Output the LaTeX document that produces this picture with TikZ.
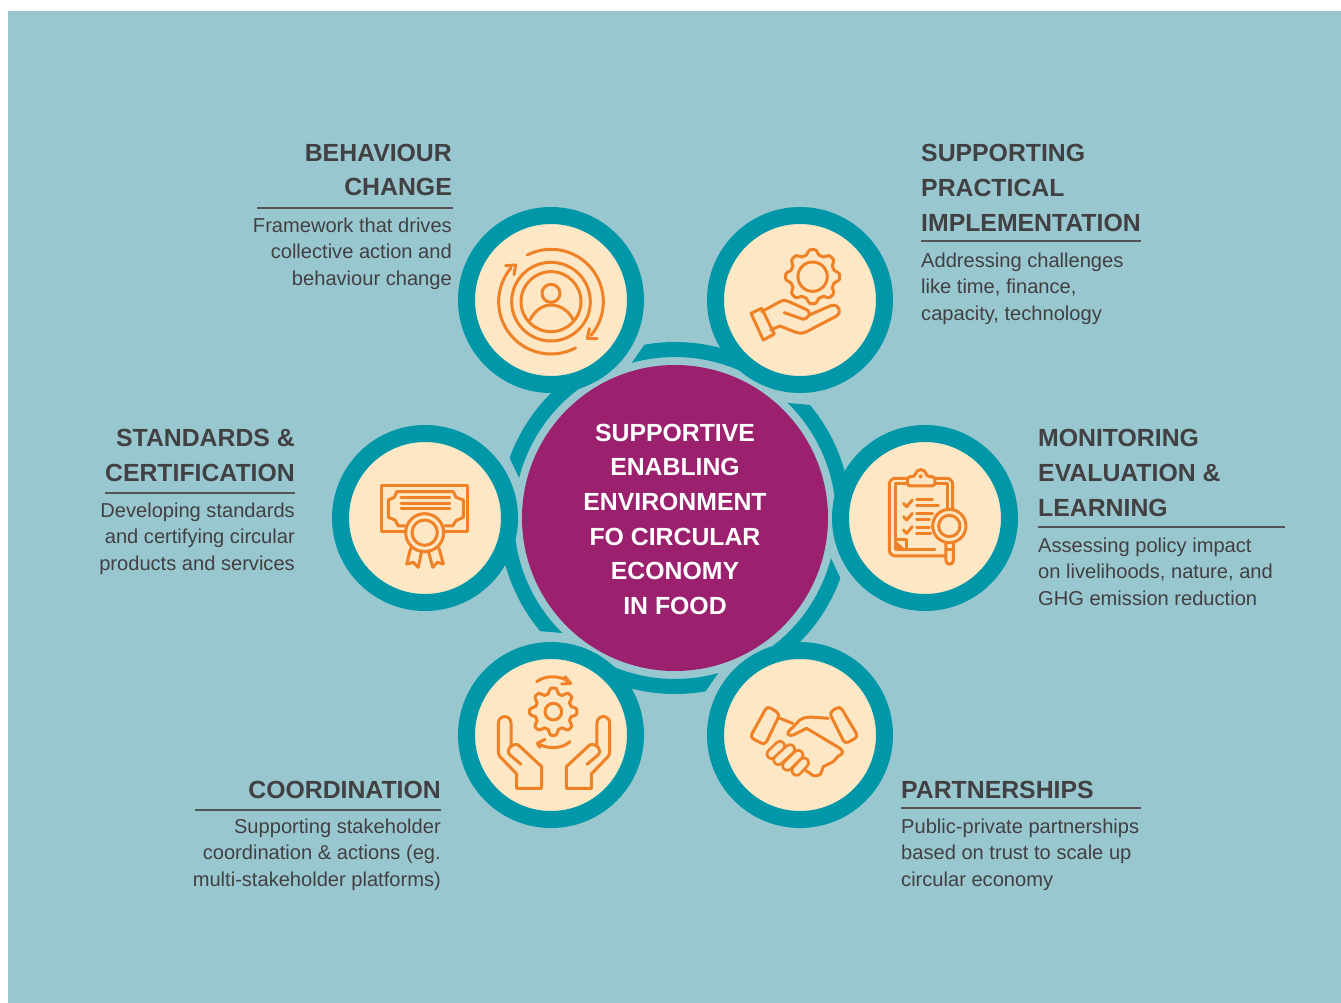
\documentclass[tikz,border=0pt]{standalone}
\usepackage{fontspec}
\setmainfont{Liberation Sans}
\definecolor{paleblue}{HTML}{99C7CF}
\definecolor{ringteal}{HTML}{0098A9}
\definecolor{coreplum}{HTML}{9B206E}
\definecolor{hubcream}{HTML}{FDE7C5}
\definecolor{iconorange}{HTML}{EF8226}
\definecolor{textgrey}{HTML}{414042}
\tikzset{
  hub/.style={circle,draw=ringteal,line width=17pt,fill=hubcream,minimum size=169pt,inner sep=0pt},
  core/.style={circle,fill=coreplum,minimum size=306pt,inner sep=0pt,align=center,text=white,
    font=\fontsize{24.8}{34.6}\selectfont\bfseries},
  headR/.style={anchor=base east,inner sep=0pt,align=right,text=textgrey,font=\fontsize{24.8}{34.6}\selectfont\bfseries},
  headL/.style={anchor=base west,inner sep=0pt,align=left,text=textgrey,font=\fontsize{24.8}{34.6}\selectfont\bfseries},
  bodyR/.style={anchor=base east,inner sep=0pt,align=right,text=textgrey,font=\fontsize{20.1}{26.7}\selectfont},
  bodyL/.style={anchor=base west,inner sep=0pt,align=left,text=textgrey,font=\fontsize{20.1}{26.7}\selectfont},
  headrule/.style={draw=textgrey!90,line width=1.5pt},
  icon/.style={draw=iconorange,line width=3pt,line join=round,line cap=round},
  zoomed/.style 2 args={shift={(#1,#2)},x=.3333pt,y=-.3333pt},
}
% toothed wheel: centre x, centre y, mid radius, tooth height
\newcommand{\gearwheel}[4]{\draw[icon] plot[domain=0:360,samples=161,variable=\t]
  ({#1+(#3+#4*max(-1,min(1,1.5*cos(8*\t))))*cos(\t)},{#2+(#3+#4*max(-1,min(1,1.5*cos(8*\t))))*sin(\t)}) -- cycle;}
% circular stroke: centre x, centre y, radius, from, to
\newcommand{\bowline}[5]{\draw[icon] plot[domain=#4:#5,samples=40,variable=\t] ({#1+#3*cos(\t)},{#2-#3*sin(\t)});}
% finger of the handshake
\newcommand{\fingerbar}[4]{\draw[iconorange,line width=12pt,line cap=round] (#1,#2)--(#3,#4);
  \draw[hubcream,line width=6.5pt,line cap=round] (#1,#2)--(#3,#4);}
\begin{document}
\begin{tikzpicture}[x=1pt,y=-1pt]
    \useasboundingbox (0,0) rectangle (1341,1003);
    \fill[white](0,0)rectangle(1341,1003);
    \fill[paleblue](8,11)rectangle(1341,1003);

    % broken ring round the middle
    \begin{scope}[shift={(675,518)}]
    \foreach \a in {100,40,-20,-80,-140,160}{
        \fill[ringteal] plot[domain=\a:\a-42,samples=30,variable=\t] ({-\t}:176)
          -- plot[domain=\a-42:\a+5.6,samples=30,variable=\t] ({-\t}:161) -- cycle;
    }
    \end{scope}

    \node[core] (centre) at (675,518) {\rule{0pt}{20pt}SUPPORTIVE\\ENABLING\\ENVIRONMENT\\FO CIRCULAR\\ECONOMY\\IN FOOD};
    \node[hub] (behaviour) at (551,300) {};
    \node[hub] (practical) at (800,300) {};
    \node[hub] (monitoring) at (925,518) {};
    \node[hub] (partners) at (800,735) {};
    \node[hub] (coordination) at (551,735) {};
    \node[hub] (standards) at (425,518) {};

    % labels
    \node[headR] (behaviourhead) at (452,196) {BEHAVIOUR\\CHANGE};
    \draw[headrule](257,208)--(453,208);
    \node[bodyR] (behaviourtext) at (452,285.5) {Framework that drives\\collective action and\\behaviour change};

    \node[headL] (practicalhead) at (921,231) {SUPPORTING\\PRACTICAL\\IMPLEMENTATION};
    \draw[headrule](921,241)--(1141,241);
    \node[bodyL] (practicaltext) at (921,320.5) {Addressing challenges\\like time, finance,\\capacity, technology};

    \node[headR] (standardshead) at (295,481) {STANDARDS \&\\CERTIFICATION};
    \draw[headrule](105,493)--(295,493);
    \node[bodyR] (standardstext) at (295,570.5) {Developing standards\\and certifying circular\\products and services};

    \node[headL] (monitoringhead) at (1038,516) {MONITORING\\EVALUATION \&\\LEARNING};
    \draw[headrule](1038,527)--(1285,527);
    \node[bodyL] (monitoringtext) at (1038,605.5) {Assessing policy impact\\on livelihoods, nature, and\\GHG emission reduction};

    \node[headR] (coordinationhead) at (441,798) {COORDINATION};
    \draw[headrule](195,810)--(441,810);
    \node[bodyR] (coordinationtext) at (441,886.5) {Supporting stakeholder\\coordination \& actions (eg.\\multi-stakeholder platforms)};

    \node[headL] (partnershead) at (901,798) {PARTNERSHIPS};
    \draw[headrule](901,808)--(1141,808);
    \node[bodyL] (partnerstext) at (901,886.5) {Public-private partnerships\\based on trust to scale up\\circular economy};

    % person with arrows
    \begin{scope}[zoomed={450}{200}]
    \draw[icon](303,305)circle[radius=118];
    \draw[icon](303,305)circle[radius=90];
    \draw[icon](303,280)circle[radius=27];
    \draw[icon](240,360)..controls(255,330)and(280,315)..(303,315)..controls(328,315)and(355,330)..(370,360);
    \bowline{303}{305}{157}{117}{-40}
    \bowline{303}{305}{157}{-62}{-220}
    \draw[icon](167,197)--(197,195)--(192,224);
    \draw[icon](418,386)--(412,415)--(441,416);

    % hand with gear
    \gearwheel{1088}{230}{74}{7}
    \draw[icon](1088,230)circle[radius=44];
    \draw[icon](903,340)--(935,325)--(973,402)--(940,420)--cycle;
    \draw[icon](935,335)--(990,305)..controls(1000,300)and(1005,300)..(1015,304)--(1072,330)
      ..controls(1082,338)and(1080,352)..(1060,358)--(1003,338);
    \draw[icon](1078,345)--(1145,316)..controls(1170,312)and(1175,340)..(1160,348)--(1070,395)
      ..controls(1055,402)and(1045,400)..(1035,396)--(990,378)--(962,390);
    \end{scope}

    % certificate
    \begin{scope}[zoomed={330}{400}]
    \draw[icon](228,395)--(155,395)--(155,258)--(413,258)--(413,395)--(340,395);
    \draw[icon](225,378)--(205,378)--(195,360)--(175,352)--(175,300)--(193,292)--(200,275)--(370,275)
      --(378,292)--(400,300)--(400,352)--(378,362)--(368,378)--(345,378);
    \draw[icon](213,292)--(360,292);
    \draw[icon](213,310)--(360,310);
    \draw[icon](213,327)--(360,327);
    \draw[icon](284,398)circle[radius=57];
    \draw[icon](284,398)circle[radius=38];
    \draw[icon](242,445)--(230,492)--(250,487)--(265,502)--(275,452);
    \draw[icon](295,452)--(308,502)--(322,487)--(340,492)--(327,445);
    \end{scope}

    % clipboard with lens
    \begin{scope}[zoomed={820}{400}]
    \draw[icon,rounded corners=6pt](262,235)--(208,235)--(208,468)--(375,468);
    \draw[icon,rounded corners=6pt](345,235)--(398,235)--(398,330);
    \draw[icon](258,252)--(225,252)--(225,450)--(345,450);
    \draw[icon](348,252)--(382,252)--(382,330);
    \draw[icon,rounded corners=3pt](262,230)--(285,230)..controls(290,205)and(315,205)..(320,230)--(345,230)--(345,258)--(262,258)--cycle;
    \fill[iconorange](302,229)circle[radius=6];
    \foreach \y in {0,40,80}{
        \draw[icon,yshift=-\y*.3333pt](250,310)--(260,320)--(277,300);
    }
    \draw[icon](290,300)--(338,300);
    \draw[icon](290,318)--(355,318);
    \draw[icon](290,342)--(338,342);
    \draw[icon](290,360)--(328,360);
    \draw[icon](290,382)--(328,382);
    \draw[icon](290,400)--(332,400);
    \draw[icon](225,420)--(258,420)--(258,450);
    \fill[iconorange](225,420)--(258,450)--(225,450)--cycle;
    \draw[icon](388,378)circle[radius=50];
    \draw[icon](388,378)circle[radius=32];
    \draw[icon](378,430)--(378,482)..controls(378,496)and(400,496)..(400,482)--(400,430);
    \draw[icon](378,450)--(400,450);
    \end{scope}

    % hands and gear, handshake
    \begin{scope}[zoomed={450}{620}]
    \gearwheel{310}{275}{63}{8}
    \draw[icon](310,275)circle[radius=25];
    \draw[icon](260,185)..controls(285,165)and(335,165)..(360,188);
    \draw[icon](345,170)--(362,190)--(335,192);
    \draw[icon](360,365)..controls(335,388)and(290,388)..(263,370);
    \draw[icon](285,358)--(262,370)--(270,382);
    \foreach \m/\s in {0/1,624/-1}{
      \draw[icon,xshift=\m*.3333pt,xscale=\s](200,505)--(275,505)--(275,440)--(205,375)
        ..controls(185,368)and(165,390)..(180,405)--(213,433);
      \draw[icon,xshift=\m*.3333pt,xscale=\s](200,505)--(200,462)--(150,410)--(145,400)--(145,310)
        ..controls(145,283)and(183,283)..(183,310)--(183,378);
    }
    \draw[icon,rounded corners=4pt](952,258)--(990,282)--(945,375)--(900,352)--cycle;
    \draw[icon,rounded corners=4pt](1170,258)--(1138,278)--(1185,372)--(1225,350)--cycle;
    \draw[icon](990,295)--(1028,310);
    \draw[icon](1135,295)--(1095,292)..controls(1065,290)and(1050,295)..(1040,310)--(1015,335)
      ..controls(1010,345)and(1020,348)..(1030,345)--(1070,325)--(1170,385)
      ..controls(1185,395)and(1175,405)..(1165,408)--(1150,425)--(1120,440)--(1112,462)
      ..controls(1100,470)and(1090,470)..(1080,460)--(1062,448);
    \fingerbar{965}{402}{990}{378}
    \fingerbar{985}{420}{1020}{388}
    \fingerbar{1012}{437}{1045}{405}
    \fingerbar{1040}{452}{1062}{428}
    \end{scope}
\end{tikzpicture}
\end{document}
